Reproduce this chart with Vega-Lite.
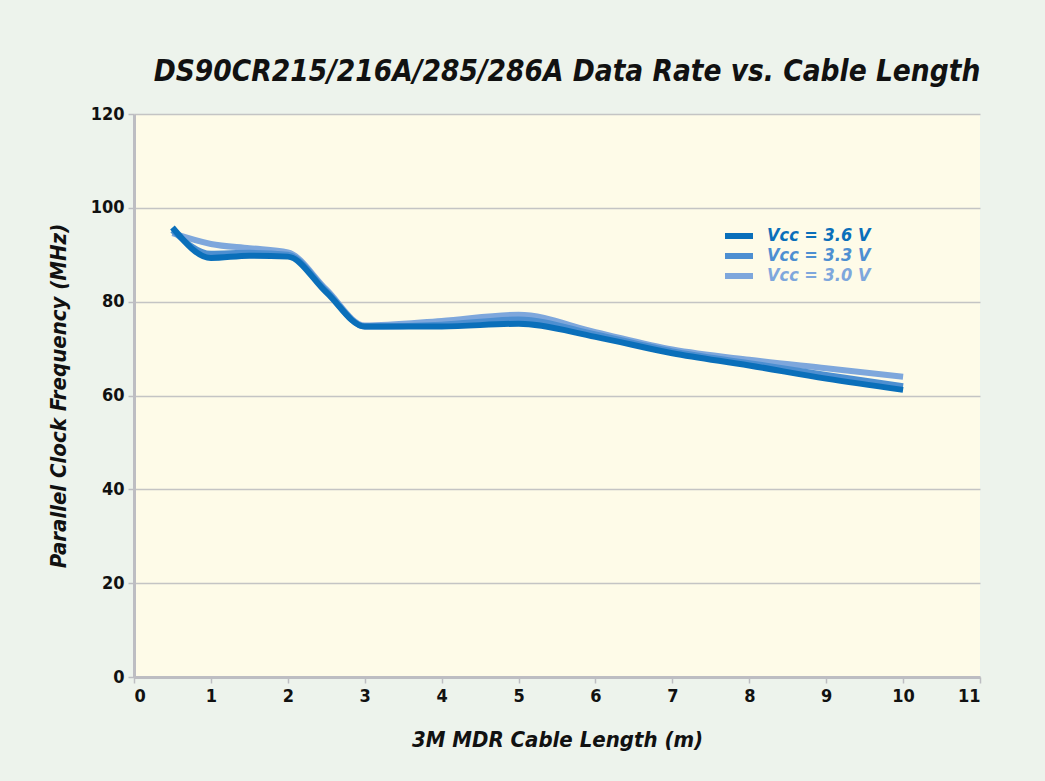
{
  "$schema": "https://vega.github.io/schema/vega-lite/v6.json",
  "autosize": "none",
  "width": 846,
  "height": 563,
  "padding": {"left": 134, "top": 114, "right": 65, "bottom": 104},
  "background": "#edf3ec",
  "title": {
    "text": "DS90CR215/216A/285/286A Data Rate vs. Cable Length",
    "font": "DejaVu Sans Condensed",
    "fontSize": 29.5,
    "fontWeight": "bold",
    "fontStyle": "italic",
    "color": "#111111",
    "anchor": "middle",
    "dx": 10,
    "offset": 18
  },
  "data": {
    "values": [
      {"len": 0.5, "f": 94.6, "s": "Vcc = 3.0 V"},
      {"len": 1, "f": 92.3, "s": "Vcc = 3.0 V"},
      {"len": 1.5, "f": 91.4, "s": "Vcc = 3.0 V"},
      {"len": 2, "f": 90.5, "s": "Vcc = 3.0 V"},
      {"len": 2.5, "f": 82.6, "s": "Vcc = 3.0 V"},
      {"len": 3, "f": 74.9, "s": "Vcc = 3.0 V"},
      {"len": 4, "f": 75.9, "s": "Vcc = 3.0 V"},
      {"len": 5, "f": 77.2, "s": "Vcc = 3.0 V"},
      {"len": 6, "f": 73.5, "s": "Vcc = 3.0 V"},
      {"len": 7, "f": 69.8, "s": "Vcc = 3.0 V"},
      {"len": 8, "f": 67.6, "s": "Vcc = 3.0 V"},
      {"len": 9, "f": 65.8, "s": "Vcc = 3.0 V"},
      {"len": 10, "f": 64.0, "s": "Vcc = 3.0 V"},
      {"len": 0.5, "f": 95.2, "s": "Vcc = 3.3 V"},
      {"len": 1, "f": 90.2, "s": "Vcc = 3.3 V"},
      {"len": 1.5, "f": 90.4, "s": "Vcc = 3.3 V"},
      {"len": 2, "f": 90.0, "s": "Vcc = 3.3 V"},
      {"len": 2.5, "f": 82.3, "s": "Vcc = 3.3 V"},
      {"len": 3, "f": 74.7, "s": "Vcc = 3.3 V"},
      {"len": 4, "f": 75.1, "s": "Vcc = 3.3 V"},
      {"len": 5, "f": 76.2, "s": "Vcc = 3.3 V"},
      {"len": 6, "f": 73.0, "s": "Vcc = 3.3 V"},
      {"len": 7, "f": 69.4, "s": "Vcc = 3.3 V"},
      {"len": 8, "f": 66.9, "s": "Vcc = 3.3 V"},
      {"len": 9, "f": 64.4, "s": "Vcc = 3.3 V"},
      {"len": 10, "f": 62.0, "s": "Vcc = 3.3 V"},
      {"len": 0.5, "f": 95.8, "s": "Vcc = 3.6 V"},
      {"len": 1, "f": 89.3, "s": "Vcc = 3.6 V"},
      {"len": 1.5, "f": 89.8, "s": "Vcc = 3.6 V"},
      {"len": 2, "f": 89.6, "s": "Vcc = 3.6 V"},
      {"len": 2.5, "f": 82.0, "s": "Vcc = 3.6 V"},
      {"len": 3, "f": 74.7, "s": "Vcc = 3.6 V"},
      {"len": 4, "f": 74.7, "s": "Vcc = 3.6 V"},
      {"len": 5, "f": 75.3, "s": "Vcc = 3.6 V"},
      {"len": 6, "f": 72.5, "s": "Vcc = 3.6 V"},
      {"len": 7, "f": 69.0, "s": "Vcc = 3.6 V"},
      {"len": 8, "f": 66.4, "s": "Vcc = 3.6 V"},
      {"len": 9, "f": 63.6, "s": "Vcc = 3.6 V"},
      {"len": 10, "f": 61.2, "s": "Vcc = 3.6 V"}
    ]
  },
  "mark": {"type": "line", "interpolate": "monotone", "strokeWidth": 6, "strokeCap": "butt"},
  "encoding": {
    "x": {
      "field": "len",
      "type": "quantitative",
      "scale": {"domain": [0, 11], "nice": false},
      "axis": {
        "title": "3M MDR Cable Length (m)",
        "values": [0, 1, 2, 3, 4, 5, 6, 7, 8, 9, 10, 11],
        "grid": false,
        "titleFontSize": 22,
        "titlePadding": 24
      }
    },
    "y": {
      "field": "f",
      "type": "quantitative",
      "scale": {"domain": [0, 120], "nice": false},
      "axis": {
        "title": "Parallel Clock Frequency (MHz)",
        "values": [0, 20, 40, 60, 80, 100, 120],
        "grid": true,
        "titleFontSize": 22,
        "titlePadding": 20
      }
    },
    "color": {
      "field": "s",
      "type": "nominal",
      "scale": {
        "domain": ["Vcc = 3.6 V", "Vcc = 3.3 V", "Vcc = 3.0 V"],
        "range": ["#0a6fba", "#4d8fd1", "#7ea7dc"]
      },
      "legend": {
        "title": null,
        "orient": "none",
        "legendX": 595,
        "legendY": 112,
        "symbolType": "M-1.4,-0.3H1.4V0.3H-1.4Z",
        "symbolSize": 400,
        "symbolStrokeWidth": 0,
        "labelFont": "DejaVu Sans Condensed",
        "labelFontSize": 18,
        "labelFontWeight": "bold",
        "labelFontStyle": "italic",
        "labelOffset": 18,
        "rowPadding": 1,
        "encode": {
          "symbols": {"update": {"fill": {"scale": "color", "field": "value"}, "strokeWidth": {"value": 0}}},
          "labels": {"update": {"fill": {"scale": "color", "field": "value"}}}
        }
      }
    }
  },
  "config": {
    "view": {"fill": "#fefbe8", "stroke": null},
    "axis": {
      "labelFont": "DejaVu Sans Condensed",
      "labelFontSize": 18,
      "labelFontWeight": "bold",
      "labelColor": "#111111",
      "titleFont": "DejaVu Sans Condensed",
      "titleFontWeight": "bold",
      "titleFontStyle": "italic",
      "titleColor": "#111111",
      "domainColor": "#bdbdc2",
      "domainWidth": 3,
      "tickColor": "#bdbdc2",
      "tickWidth": 1.5,
      "tickSize": 6,
      "gridColor": "#c4c4c4",
      "gridWidth": 1.5,
      "labelPadding": 4
    }
  }
}
